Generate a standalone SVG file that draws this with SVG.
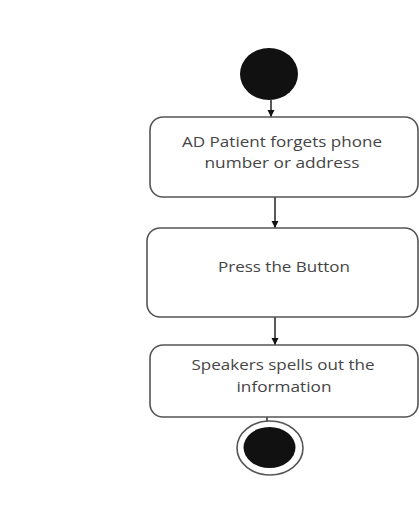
<svg xmlns="http://www.w3.org/2000/svg" width="419" height="530" viewBox="0 0 419 530">
<defs>
<marker id="arr" viewBox="0 0 10 10" refX="10" refY="5" markerWidth="5" markerHeight="5" orient="auto" markerUnits="strokeWidth">
<path d="M0,0 L10,5 L0,10 z" fill="#111"/>
</marker>
<style>
.box{fill:#fff;stroke:#555;stroke-width:1.6}
.lbl{font-family:"Open Sans","Liberation Sans",sans-serif;font-size:15px;fill:#454545;text-anchor:middle}
.conn{stroke:#222;stroke-width:1.5;fill:none}
</style>
</defs>
<rect width="419" height="530" fill="#fff"/>
<g id="connectors">
<line class="conn" x1="271" y1="100" x2="271" y2="117" marker-end="url(#arr)"/>
<line class="conn" x1="275" y1="197" x2="275" y2="228" marker-end="url(#arr)"/>
<line class="conn" x1="275" y1="317" x2="275" y2="345" marker-end="url(#arr)"/>
<line class="conn" x1="267" y1="417" x2="267" y2="440"/>
</g>
<g id="start">
<ellipse cx="269" cy="74" rx="29" ry="26" fill="#111"/>
</g>
<g id="node1">
<rect class="box" x="150" y="117" width="268" height="80" rx="13"/>
<text class="lbl" x="282" y="147" textLength="200" lengthAdjust="spacingAndGlyphs">AD Patient forgets phone</text>
<text class="lbl" x="282" y="168" textLength="155" lengthAdjust="spacingAndGlyphs">number or address</text>
</g>
<g id="node2">
<rect class="box" x="147" y="228" width="271" height="89" rx="13"/>
<text class="lbl" x="284" y="272" textLength="132" lengthAdjust="spacingAndGlyphs">Press the Button</text>
</g>
<g id="node3">
<rect class="box" x="150" y="345" width="268" height="72" rx="13"/>
<text class="lbl" x="283" y="370" textLength="183" lengthAdjust="spacingAndGlyphs">Speakers spells out the</text>
<text class="lbl" x="284" y="392" textLength="95" lengthAdjust="spacingAndGlyphs">information</text>
</g>
<g id="end">
<ellipse cx="270" cy="448" rx="33" ry="27" fill="#fff" stroke="#555" stroke-width="1.6"/>
<ellipse cx="269.5" cy="447.5" rx="26" ry="20.5" fill="#111"/>
</g>
</svg>
